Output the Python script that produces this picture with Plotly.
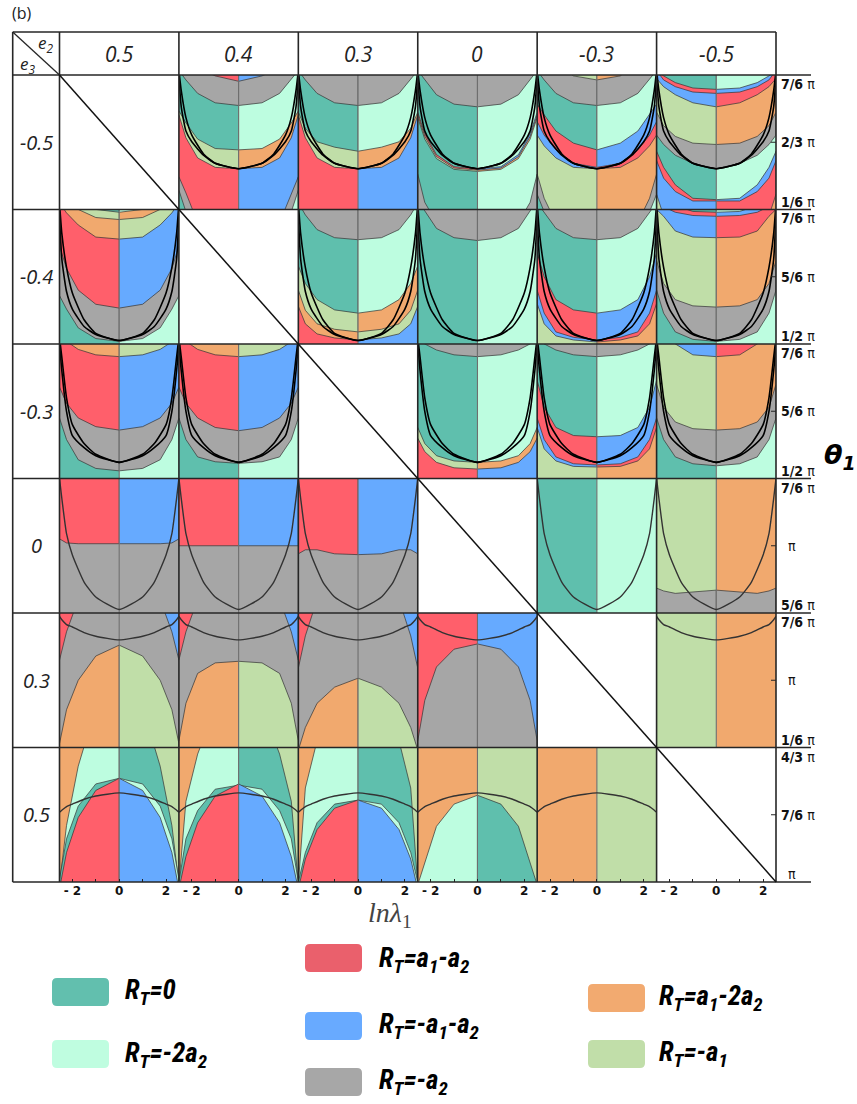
import numpy as np
import plotly.graph_objects as go

# ---------------------------------------------------------------- data
E2_VALUES = ["0.5", "0.4", "0.3", "0", "-0.3", "-0.5"]      # columns (e2)
E3_VALUES = ["-0.5", "-0.4", "-0.3", "0", "0.3", "0.5"]     # rows (e3)

# theta_1 axis range per row, in units of pi
THETA_LO = [1/6, 1/2, 1/2, 5/6, 5/6, 1.0]
THETA_HI = [7/6, 7/6, 7/6, 7/6, 7/6, 4/3]
THETA_TICK_TOP = ["7/6", "7/6", "7/6", "7/6", "7/6", "4/3"]
THETA_TICK_MID = ["2/3", "5/6", "5/6", "", "", "7/6"]
THETA_TICK_BOT = ["1/6", "1/2", "1/2", "5/6", "1/6", ""]

LNL_RANGE = [-2.55, 2.55]
LNL_TICKS = [-2, 0, 2]
LNL_TICKTEXT = ["<b>- 2</b>", "<b>0</b>", "<b>2</b>"]
LNL_MINOR = [-1, 1]

# half-profile sample points in ln(lambda1) (mirrored to negative side)
XH = [0, 1, 1.75, 2.25, 2.55]
XK = [0, 1, 1.5, 2, 2.25, 2.45, 2.55]

# region boundaries, theta_1/pi at XH; (mode, left colour, right colour, boundary)
P_0_1 = [("base", "R", "B", None),
         ("below", "G", "G", [-0.03, 0.02, 0.07, 0.29, 0.41]),
         ("below", "T", "M", [-0.03, 0.02, 0.07, 0.15, 0.31]),
         ("above", "L", "O", [0.47, 0.48, 0.55, 0.70, 0.87]),
         ("above", "T", "M", [0.61, 0.62, 0.69, 0.81, 0.90]),
         ("above", "G", "G", [0.94, 0.96, 1.03, 1.13, 1.20]),
         ("above", "R", "B", [1.12, 1.16, 1.22, 1.25, 1.25])]
P_0_2 = [("base", "R", "B", None),
         ("above", "L", "O", [0.47, 0.48, 0.55, 0.70, 0.87]),
         ("above", "T", "M", [0.60, 0.63, 0.67, 0.77, 0.89]),
         ("above", "G", "G", [0.94, 0.96, 1.03, 1.13, 1.20])]
P_0_3 = [("base", "T", "M", None),
         ("below", "G", "G", [-0.13, -0.03, 0.07, 0.22, 0.43]),
         ("above", "L", "O", [0.45, 0.465, 0.545, 0.69, 0.85]),
         ("above", "R", "B", [0.46, 0.475, 0.56, 0.71, 0.87]),
         ("above", "T", "M", [0.47, 0.485, 0.575, 0.73, 0.89]),
         ("above", "G", "G", [0.93, 0.95, 1.02, 1.13, 1.20])]
P_0_4 = [("base", "L", "O", None),
         ("below", "G", "G", [-0.13, -0.03, 0.07, 0.25, 0.43]),
         ("below", "T", "M", [-0.13, -0.03, 0.02, 0.15, 0.28]),
         ("above", "B", "R", [0.47, 0.48, 0.55, 0.64, 0.72]),
         ("above", "R", "B", [0.48, 0.51, 0.61, 0.72, 0.82]),
         ("above", "T", "M", [0.61, 0.66, 0.75, 0.87, 0.95]),
         ("above", "G", "G", [0.94, 0.96, 1.03, 1.13, 1.20]),
         ("above", "L", "O", [1.13, 1.16, 1.27, 1.30, 1.30])]
P_0_5 = [("base", "T", "M", None),
         ("below", "R", "B", [0.24, 0.25, 0.35, 0.48, 0.60]),
         ("below", "B", "R", [0.23, 0.23, 0.30, 0.40, 0.53]),
         ("below", "L", "O", [-0.13, -0.03, 0.07, 0.12, 0.28]),
         ("above", "G", "G", [0.47, 0.51, 0.57, 0.65, 0.72]),
         ("above", "L", "O", [0.65, 0.66, 0.71, 0.79, 0.89]),
         ("above", "B", "R", [0.93, 0.96, 1.02, 1.08, 1.14]),
         ("above", "R", "B", [1.03, 1.04, 1.08, 1.13, 1.20]),
         ("above", "T", "M", [1.06, 1.07, 1.11, 1.16, 1.20])]

P_1_0 = [("base", "T", "M", None),
         ("above", "G", "G", [0.513, 0.527, 0.58, 0.673, 0.74]),
         ("above", "R", "B", [0.678, 0.697, 0.767, 0.874, 0.987]),
         ("above", "O", "L", [1.02, 1.03, 1.09, 1.15, 1.20]),
         ("above", "L", "O", [1.117, 1.127, 1.167, 1.20, 1.20]),
         ("above", "T", "M", [1.153, 1.167, 1.20, 1.20, 1.20])]
P_1_2 = [("base", "R", "B", None),
         ("above", "O", "L", [0.52, 0.53, 0.55, 0.60, 0.687]),
         ("above", "L", "O", [0.56, 0.573, 0.60, 0.667, 0.767]),
         ("above", "T", "M", [0.653, 0.669, 0.72, 0.80, 0.887]),
         ("above", "G", "G", [1.017, 1.027, 1.067, 1.14, 1.20])]
P_1_3 = [("base", "T", "M", None),
         ("above", "G", "G", [1.013, 1.027, 1.073, 1.16, 1.20])]
P_1_4 = [("base", "L", "O", None),
         ("above", "B", "R", [0.51, 0.52, 0.54, 0.60, 0.70]),
         ("above", "R", "B", [0.52, 0.533, 0.56, 0.653, 0.767]),
         ("above", "T", "M", [0.653, 0.669, 0.72, 0.833, 0.953]),
         ("above", "G", "G", [1.017, 1.027, 1.073, 1.15, 1.20])]
P_1_5 = [("base", "T", "M", None),
         ("above", "G", "G", [0.513, 0.523, 0.56, 0.653, 0.767]),
         ("above", "L", "O", [0.683, 0.689, 0.72, 0.80, 0.913]),
         ("above", "B", "R", [1.027, 1.03, 1.06, 1.133, 1.167]),
         ("above", "R", "B", [1.133, 1.137, 1.153, 1.18, 1.20]),
         ("above", "T", "M", [1.153, 1.157, 1.187, 1.20, 1.20])]

P_2_0 = [("base", "T", "M", None),
         ("above", "G", "G", [0.538, 0.55, 0.593, 0.693, 0.80]),
         ("above", "R", "B", [0.74, 0.757, 0.80, 0.873, 0.953]),
         ("above", "O", "L", [1.104, 1.113, 1.14, 1.18, 1.20])]
P_2_1 = [("base", "T", "M", None),
         ("above", "G", "G", [0.575, 0.583, 0.607, 0.693, 0.80]),
         ("above", "R", "B", [0.737, 0.753, 0.80, 0.873, 0.953]),
         ("above", "O", "L", [1.104, 1.113, 1.14, 1.18, 1.20])]
P_2_3 = [("base", "T", "M", None),
         ("below", "L", "O", [0.58, 0.587, 0.613, 0.673, 0.753]),
         ("below", "R", "B", [0.547, 0.553, 0.58, 0.633, 0.70]),
         ("above", "G", "G", [1.104, 1.113, 1.137, 1.167, 1.20])]
P_2_4 = [("base", "L", "O", None),
         ("above", "B", "R", [0.557, 0.56, 0.587, 0.647, 0.753]),
         ("above", "R", "B", [0.567, 0.573, 0.607, 0.693, 0.80]),
         ("above", "T", "M", [0.707, 0.713, 0.753, 0.853, 0.987]),
         ("above", "G", "G", [1.104, 1.113, 1.137, 1.167, 1.20])]
P_2_5 = [("base", "T", "M", None),
         ("above", "G", "G", [0.563, 0.573, 0.607, 0.693, 0.80]),
         ("above", "L", "O", [0.74, 0.747, 0.78, 0.853, 0.967]),
         ("above", "B", "R", [1.104, 1.113, 1.167, 1.20, 1.20])]

P_3_0 = [("base", "G", "G", None),
         ("above", "R", "B", [1.005, 1.005, 1.005, 1.007, 1.017])]
P_3_1 = [("base", "G", "G", None),
         ("above", "R", "B", [1.0, 1.0, 1.0, 1.0, 1.0])]
P_3_2 = [("base", "G", "G", None),
         ("above", "R", "B", [0.978, 0.98, 0.99, 0.99, 0.98])]
P_3_4 = [("base", "T", "M", None)]
P_3_5 = [("base", "L", "O", None),
         ("below", "G", "G", [0.89, 0.885, 0.882, 0.888, 0.895])]

P_4_0 = [("base", "G", "G", None),
         ("below", "O", "L", [1.087, 1.06, 1.0, 0.927, 0.843]),
         ("above", "R", "B", [1.2, 1.2, 1.2, 1.12, 1.05])]
P_4_1 = [("base", "G", "G", None),
         ("below", "O", "L", [1.047, 1.043, 1.017, 0.943, 0.85]),
         ("above", "R", "B", [1.2, 1.2, 1.2, 1.12, 1.05])]
P_4_2 = [("base", "G", "G", None),
         ("below", "O", "L", [1.005, 0.983, 0.943, 0.883, 0.827]),
         ("above", "R", "B", [1.2, 1.2, 1.2, 1.11, 1.03])]
P_4_3 = [("base", "R", "B", None),
         ("below", "G", "G", [1.09, 1.077, 1.033, 0.95, 0.85])]
P_4_5 = [("base", "L", "O", None)]

P_5_0 = [("base", "O", "L", None),
         ("below", "M", "T", [1.533, 1.433, 1.287, 1.14, 0.993]),
         ("below", "T", "M", [1.257, 1.243, 1.188, 1.107, 1.007]),
         ("below", "R", "B", [1.257, 1.227, 1.16, 1.073, 0.983])]
P_5_1 = [("base", "O", "L", None),
         ("below", "M", "T", [1.533, 1.433, 1.317, 1.20, 0.993]),
         ("below", "T", "M", [1.24, 1.23, 1.177, 1.107, 1.0]),
         ("below", "R", "B", [1.243, 1.213, 1.147, 1.063, 0.983])]
P_5_2 = [("base", "O", "L", None),
         ("below", "M", "T", [1.533, 1.467, 1.35, 1.233, 0.993]),
         ("below", "T", "M", [1.203, 1.193, 1.147, 1.073, 1.0]),
         ("below", "R", "B", [1.203, 1.183, 1.13, 1.057, 0.983])]
P_5_3 = [("base", "O", "L", None),
         ("below", "M", "T", [1.215, 1.193, 1.138, 1.047, 0.993])]
P_5_4 = [("base", "O", "L", None)]

# black reference curves per row, theta_1/pi at XK
K_ROW0 = [[0.47, 0.51, 0.57, 0.67, 0.75, 0.93, 1.15],
          [0.47, 0.51, 0.58, 0.72, 0.85, 1.05, 1.20]]
K_ROW1 = [[0.517, 0.547, 0.587, 0.673, 0.76, 0.92, 1.133],
          [0.517, 0.553, 0.62, 0.753, 0.88, 1.047, 1.20]]
K_ROW2 = [[0.58, 0.613, 0.653, 0.713, 0.833, 1.033, 1.167],
          [0.58, 0.62, 0.673, 0.767, 0.90, 1.10, 1.20]]
K_ROW3 = [[0.842, 0.873, 0.91, 0.977, 1.03, 1.117, 1.167]]
K_ROW4 = [[1.10, 1.109, 1.118, 1.132, 1.138, 1.15, 1.158]]
K_ROW5 = [[1.221, 1.213, 1.205, 1.193, 1.187, 1.178, 1.173]]

COLORS = {"T": "#5fbfad", "M": "#bdfde0", "R": "#ff5f6b", "B": "#66aaff",
          "G": "#a6a6a6", "O": "#f1a96e", "L": "#c0dea8"}
LEGEND_KEYS = ["T", "M", "R", "B", "G", "O", "L"]
LEGEND_LABELS = ["R<sub>T</sub>=0", "R<sub>T</sub>=-2a<sub>2</sub>",
                 "R<sub>T</sub>=a<sub>1</sub>-a<sub>2</sub>",
                 "R<sub>T</sub>=-a<sub>1</sub>-a<sub>2</sub>",
                 "R<sub>T</sub>=-a<sub>2</sub>",
                 "R<sub>T</sub>=a<sub>1</sub>-2a<sub>2</sub>",
                 "R<sub>T</sub>=-a<sub>1</sub>"]
LEGEND_SWATCH = {"T": "#62bfae", "M": "#bffde0", "R": "#ea606c", "B": "#68aaff",
                 "G": "#a7a7a7", "O": "#f2aa70", "L": "#c1dea9"}

PANELS = {(0, 1): P_0_1, (0, 2): P_0_2, (0, 3): P_0_3, (0, 4): P_0_4, (0, 5): P_0_5,
          (1, 0): P_1_0, (1, 2): P_1_2, (1, 3): P_1_3, (1, 4): P_1_4, (1, 5): P_1_5,
          (2, 0): P_2_0, (2, 1): P_2_1, (2, 3): P_2_3, (2, 4): P_2_4, (2, 5): P_2_5,
          (3, 0): P_3_0, (3, 1): P_3_1, (3, 2): P_3_2, (3, 4): P_3_4, (3, 5): P_3_5,
          (4, 0): P_4_0, (4, 1): P_4_1, (4, 2): P_4_2, (4, 3): P_4_3, (4, 5): P_4_5,
          (5, 0): P_5_0, (5, 1): P_5_1, (5, 2): P_5_2, (5, 3): P_5_3, (5, 4): P_5_4}
K_ROWS = [K_ROW0, K_ROW1, K_ROW2, K_ROW3, K_ROW4, K_ROW5]

# ---------------------------------------------------------------- layout geometry
W, H = 857, 1104
GX0, GX1 = 59.5, 776.0
GY0, GY1 = 75.0, 882.0
LX, TY = 12.7, 32.0
CW = (GX1 - GX0) / 6
RH = (GY1 - GY0) / 6


def px(x):
    return x / W


def py(y):
    return 1 - y / H


fig = go.Figure()
layout = dict(width=W, height=H, margin=dict(l=0, r=0, t=0, b=0), autosize=False,
              paper_bgcolor="white", plot_bgcolor="white", showlegend=False)

OUT = "rgba(55,55,55,0.8)"

for r in range(6):
    lo, hi = THETA_LO[r], THETA_HI[r]
    for c in range(6):
        idx = r * 6 + c + 1
        sfx = "" if idx == 1 else str(idx)
        xa, ya = "x" + sfx, "y" + sfx
        x0 = GX0 + c * CW
        y0 = GY0 + r * RH
        xax = dict(domain=[px(x0), px(x0 + CW)], range=LNL_RANGE, anchor=ya,
                   showgrid=False, zeroline=False, showline=False, fixedrange=True,
                   showticklabels=(r == 5))
        if r == 5:
            xax.update(tickmode="array", tickvals=LNL_TICKS, ticktext=LNL_TICKTEXT,
                       ticks="inside", ticklen=3, tickcolor="#222", tickwidth=1,
                       tickfont=dict(family="DejaVu Sans", size=12, color="#111"),
                       minor=dict(tickvals=LNL_MINOR, ticks="inside", ticklen=3,
                                  tickcolor="#222", tickwidth=1, showgrid=False))
        yax = dict(domain=[py(y0 + RH), py(y0)], range=[lo, hi], anchor=xa,
                   showgrid=False, zeroline=False, showline=False, fixedrange=True,
                   showticklabels=False)
        layout["xaxis" + sfx] = xax
        layout["yaxis" + sfx] = yax

        if (r, c) not in PANELS:
            fig.add_trace(go.Scatter(x=[None], y=[None], xaxis=xa, yaxis=ya,
                                     mode="lines", hoverinfo="skip"))
            continue

        xs = np.array(XH, dtype=float)
        for mode, lc, rc, v in PANELS[(r, c)]:
            for side, col in (("L", lc), ("R", rc)):
                if mode == "base":
                    if side == "L":
                        X = [-2.6, 0, 0, -2.6]
                    else:
                        X = [0, 2.6, 2.6, 0]
                    Y = [lo - 1, lo - 1, hi + 1, hi + 1]
                    lw = 0
                else:
                    vs = np.array(v, dtype=float)
                    if side == "L":
                        xx = list(-xs[::-1])
                        yy = list(vs[::-1])
                    else:
                        xx = list(xs)
                        yy = list(vs)
                    cap = hi + 1 if mode == "above" else lo - 1
                    X = xx + [xx[-1], xx[0]]
                    Y = yy + [cap, cap]
                    lw = 0.9
                fig.add_trace(go.Scatter(
                    x=X, y=Y, xaxis=xa, yaxis=ya, mode="lines", fill="toself",
                    fillcolor=COLORS[col], line=dict(color=OUT, width=lw),
                    hoverinfo="skip"))
        # centre separator
        fig.add_trace(go.Scatter(x=[0, 0], y=[lo - 1, hi + 1], xaxis=xa, yaxis=ya,
                                 mode="lines", line=dict(color="#6e6e6e", width=1.1),
                                 hoverinfo="skip"))
        # reference curves
        xk = np.array(XK, dtype=float)
        for k in K_ROWS[r]:
            kv = np.array(k, dtype=float)
            X = list(-xk[::-1]) + list(xk[1:])
            Y = list(kv[::-1]) + list(kv[1:])
            fig.add_trace(go.Scatter(
                x=X, y=Y, xaxis=xa, yaxis=ya, mode="lines",
                line=dict(color="#000" if r < 3 else "#333", width=1.6 if r < 3 else 1.4,
                          shape="spline", smoothing=0.5),
                hoverinfo="skip"))

shapes = []
LC = "#262626"


def line(xa, ya, xb, yb, w=1.6, color=LC):
    shapes.append(dict(type="line", xref="paper", yref="paper",
                       x0=px(xa), y0=py(ya), x1=px(xb), y1=py(yb),
                       line=dict(color=color, width=w), layer="above"))


# frame & grid
line(LX, TY, GX1, TY)
line(LX, TY, LX, GY1)
for i in range(7):
    yy = GY0 + i * RH
    line(LX, yy, GX1, yy)
    line(GX1, yy, 811, yy, w=1.4)
for i in range(7):
    xx = GX0 + i * CW
    line(xx, TY, xx, GY1)
# diagonals
line(LX, TY, GX0, GY0, w=1.3)
line(GX0, GY0, GX1, GY1, w=1.5, color="#111")
# mid ticks on right axis
for r in range(6):
    ym = GY0 + (r + 0.5) * RH
    line(GX1 - 5, ym, GX1, ym, w=1)

# legend swatches (rounded)
SW_POS = {"T": (52, 978), "M": (52, 1040), "R": (305, 944), "B": (305, 1012),
          "G": (305, 1068), "O": (588, 984), "L": (588, 1040)}
SW_W, SW_H, RAD = 57, 28, 5
for k in LEGEND_KEYS:
    xa, ya = SW_POS[k]
    xb, yb = xa + SW_W, ya + SW_H
    rx, ry = RAD / W, RAD / H
    X0, X1, Y0, Y1 = px(xa), px(xb), py(yb), py(ya)
    path = (f"M {X0+rx},{Y0} L {X1-rx},{Y0} Q {X1},{Y0} {X1},{Y0+ry} "
            f"L {X1},{Y1-ry} Q {X1},{Y1} {X1-rx},{Y1} L {X0+rx},{Y1} "
            f"Q {X0},{Y1} {X0},{Y1-ry} L {X0},{Y0+ry} Q {X0},{Y0} {X0+rx},{Y0} Z")
    shapes.append(dict(type="path", xref="paper", yref="paper", path=path,
                       fillcolor=LEGEND_SWATCH[k], line=dict(width=0)))
layout["shapes"] = shapes

ann = []


def text(x, y, s, size, family="Open Sans", color="#222", xanchor="center"):
    ann.append(dict(x=px(x), y=py(y), xref="paper", yref="paper", text=s,
                    showarrow=False, xanchor=xanchor, yanchor="middle",
                    font=dict(family=family, size=size, color=color)))


text(10, 13, "(b)", 16, xanchor="left")
text(45, 44, "<i>e<sub>2</sub></i>", 17)
text(27, 64, "<i>e<sub>3</sub></i>", 17)
for c in range(6):
    text(GX0 + (c + 0.5) * CW, (TY + GY0) / 2, "<i>" + E2_VALUES[c] + "</i>", 21)
for r in range(6):
    text((LX + GX0) / 2, GY0 + (r + 0.5) * RH, "<i>" + E3_VALUES[r] + "</i>", 20)


def tl(t):
    return (f"<b>{t}</b> π" if t else "π")


RF = "DejaVu Sans Condensed, DejaVu Sans"
for r in range(6):
    yt = GY0 + r * RH
    text(779, yt + 9, tl(THETA_TICK_TOP[r]), 14, family=RF, xanchor="left", color="#111")
    text(779 if THETA_TICK_MID[r] else 786, yt + RH / 2, tl(THETA_TICK_MID[r]), 14,
         family=RF, xanchor="left", color="#111")
    text(779 if THETA_TICK_BOT[r] else 786, yt + RH - 8, tl(THETA_TICK_BOT[r]), 14,
         family=RF, xanchor="left", color="#111")

text(840, 456, "<b><i>θ<sub>1</sub></i></b>", 27, family="DejaVu Sans", color="#000")
text(390, 914, "<i>ln</i><i>λ</i><sub>1</sub>", 28, family="Liberation Serif", color="#444")

LEG_TXT = {"T": (123, 992), "M": (123, 1055), "R": (377, 960), "B": (377, 1026),
           "G": (377, 1082), "O": (657, 998), "L": (657, 1054)}
for k, lab in zip(LEGEND_KEYS, LEGEND_LABELS):
    x, y = LEG_TXT[k]
    text(x, y, "<b><i>" + lab + "</i></b>", 27,
         family="Liberation Sans Narrow, Roboto Condensed, Roboto", color="#000",
         xanchor="left")
layout["annotations"] = ann

fig.update_layout(**layout)
fig.write_html("out.html")
